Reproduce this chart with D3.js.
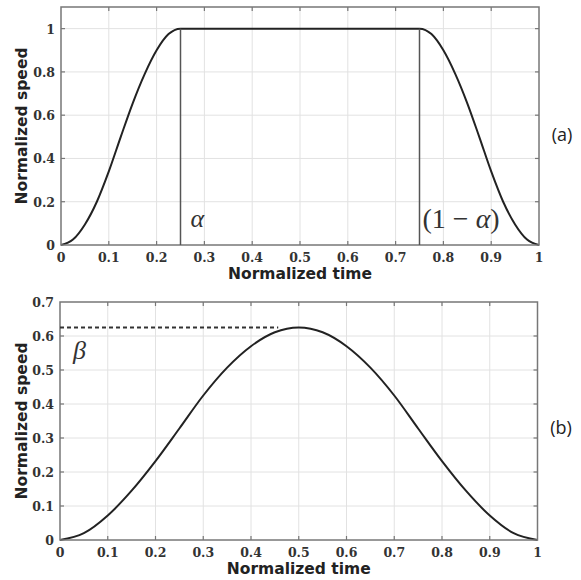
<!DOCTYPE html>
<html>
<head>
<meta charset="utf-8">
<script src="https://cdn.jsdelivr.net/npm/d3@7"></script>
<style>
  html, body { margin: 0; padding: 0; background: #fff; }
  svg { display: block; }
</style>
</head>
<body>
<div id="chart"></div>
<script>
// ---- data ----
const X_TICKS = [0, 0.1, 0.2, 0.3, 0.4, 0.5, 0.6, 0.7, 0.8, 0.9, 1];
const Y_TICKS_A = [0, 0.2, 0.4, 0.6, 0.8, 1];
const Y_TICKS_B = [0, 0.1, 0.2, 0.3, 0.4, 0.5, 0.6, 0.7];

// (a) trapezoid-like profile with smooth ramps
const TIME_A  = [0, 0.025, 0.05, 0.075, 0.1, 0.125, 0.15, 0.175, 0.2, 0.225, 0.25,
                 0.75, 0.775, 0.8, 0.825, 0.85, 0.875, 0.9, 0.925, 0.95, 0.975, 1];
const SPEED_A = [0, 0.025, 0.095, 0.2, 0.34, 0.5, 0.655, 0.79, 0.9, 0.975, 1,
                 1, 0.975, 0.9, 0.79, 0.655, 0.5, 0.34, 0.2, 0.095, 0.025, 0];
const ALPHA = 0.25;

// (b) bell-shaped profile
const TIME_B  = [0, 0.05, 0.1, 0.15, 0.2, 0.25, 0.3, 0.35, 0.4, 0.45, 0.5,
                 0.55, 0.6, 0.65, 0.7, 0.75, 0.8, 0.85, 0.9, 0.95, 1];
const SPEED_B = [0, 0.02, 0.072, 0.145, 0.232, 0.328, 0.425, 0.507, 0.57, 0.611, 0.625,
                 0.611, 0.57, 0.507, 0.425, 0.328, 0.232, 0.145, 0.072, 0.02, 0];
const BETA = 0.625;
const BETA_END = 0.457;

const W = 581, H = 580;
const svg = d3.select("#chart").append("svg")
  .attr("width", W).attr("height", H)
  .attr("viewBox", `0 0 ${W} ${H}`);
svg.append("rect").attr("width", W).attr("height", H).attr("fill", "#fff");

const tickFont = "'DejaVu Serif', serif";
const mathFont = "'Liberation Serif', 'Times New Roman', serif";
const sansFont = "'DejaVu Sans', Verdana, sans-serif";
const fmt = d => d3.format("~g")(d);

function drawPanel(box, yMax, yTicks, times, speeds) {
  const x = d3.scaleLinear().domain([0, 1]).range([box.left, box.right]);
  const y = d3.scaleLinear().domain([0, yMax]).range([box.bottom, box.top]);
  const g = svg.append("g");

  // grid
  g.append("g").selectAll("line").data(X_TICKS.slice(1, -1)).join("line")
    .attr("x1", d => x(d)).attr("x2", d => x(d))
    .attr("y1", box.top).attr("y2", box.bottom)
    .attr("stroke", "#e2e2e2").attr("stroke-width", 1);
  g.append("g").selectAll("line").data(yTicks.filter(d => d > 0 && d < yMax)).join("line")
    .attr("y1", d => y(d)).attr("y2", d => y(d))
    .attr("x1", box.left).attr("x2", box.right)
    .attr("stroke", "#e2e2e2").attr("stroke-width", 1);

  // inward ticks on all four sides
  const tk = 4;
  const ticks = g.append("g").attr("stroke", "#777").attr("stroke-width", 1.2);
  X_TICKS.slice(1, -1).forEach(d => {
    ticks.append("line").attr("x1", x(d)).attr("x2", x(d)).attr("y1", box.bottom).attr("y2", box.bottom - tk);
    ticks.append("line").attr("x1", x(d)).attr("x2", x(d)).attr("y1", box.top).attr("y2", box.top + tk);
  });
  yTicks.filter(d => d > 0 && d < yMax).forEach(d => {
    ticks.append("line").attr("y1", y(d)).attr("y2", y(d)).attr("x1", box.left).attr("x2", box.left + tk);
    ticks.append("line").attr("y1", y(d)).attr("y2", y(d)).attr("x1", box.right).attr("x2", box.right - tk);
  });

  // tick labels
  g.append("g").selectAll("text").data(X_TICKS).join("text")
    .attr("x", d => x(d)).attr("y", box.bottom + 17)
    .attr("text-anchor", "middle")
    .style("font-family", tickFont).style("font-weight", "bold").style("font-size", "12.5px")
    .attr("fill", "#333")
    .text(fmt);
  g.append("g").selectAll("text").data(yTicks).join("text")
    .attr("x", box.left - 6).attr("y", d => y(d) + 5)
    .attr("text-anchor", "end")
    .style("font-family", tickFont).style("font-weight", "bold").style("font-size", "12.5px")
    .attr("fill", "#333")
    .text(fmt);

  // axis titles
  g.append("text")
    .attr("x", (box.left + box.right) / 2).attr("y", box.bottom + 34)
    .attr("text-anchor", "middle")
    .style("font-family", sansFont).style("font-weight", "bold").style("font-size", "15.5px")
    .attr("fill", "#222")
    .text("Normalized time");
  g.append("text")
    .attr("transform", `translate(27, ${(box.top + box.bottom) / 2}) rotate(-90)`)
    .attr("text-anchor", "middle")
    .style("font-family", sansFont).style("font-weight", "bold").style("font-size", "15.5px")
    .attr("fill", "#222")
    .text("Normalized speed");

  // the speed curve
  const pts = times.map((t, i) => [t, speeds[i]]);
  g.append("path")
    .datum(pts)
    .attr("fill", "none").attr("stroke", "#222").attr("stroke-width", 2)
    .attr("d", d3.line().x(d => x(d[0])).y(d => y(d[1])).curve(d3.curveMonotoneX));

  // frame
  g.append("rect")
    .attr("x", box.left).attr("y", box.top)
    .attr("width", box.right - box.left).attr("height", box.bottom - box.top)
    .attr("fill", "none").attr("stroke", "#777").attr("stroke-width", 1.5);

  return { g, x, y };
}

// ---- panel (a) ----
const A = drawPanel({ left: 61, right: 539, top: 7, bottom: 245 }, 1.1, Y_TICKS_A, TIME_A, SPEED_A);
[ALPHA, 1 - ALPHA].forEach(t => {
  A.g.append("line")
    .attr("x1", A.x(t)).attr("x2", A.x(t))
    .attr("y1", A.y(1)).attr("y2", A.y(0))
    .attr("stroke", "#555").attr("stroke-width", 1.5);
});
A.g.append("text")
  .attr("x", A.x(ALPHA) + 10).attr("y", 227)
  .style("font-family", mathFont).style("font-style", "italic").style("font-size", "26px")
  .attr("fill", "#333")
  .text("α");
A.g.append("text")
  .attr("x", A.x(1 - ALPHA) + 3).attr("y", 228)
  .style("font-family", mathFont).style("font-size", "28px")
  .attr("fill", "#333")
  .html("(1 − <tspan font-style='italic'>α</tspan>)");
svg.append("text")
  .attr("x", 562).attr("y", 141)
  .attr("text-anchor", "middle")
  .style("font-family", "'Open Sans', sans-serif").style("font-size", "18px")
  .attr("fill", "#222")
  .text("(a)");

// ---- panel (b) ----
const B = drawPanel({ left: 60, right: 537.5, top: 302, bottom: 540 }, 0.7, Y_TICKS_B, TIME_B, SPEED_B);
B.g.append("line")
  .attr("x1", B.x(0)).attr("x2", B.x(BETA_END))
  .attr("y1", B.y(BETA)).attr("y2", B.y(BETA))
  .attr("stroke", "#333").attr("stroke-width", 1.8)
  .attr("stroke-dasharray", "4,3");
B.g.append("text")
  .attr("x", 73).attr("y", 359)
  .style("font-family", mathFont).style("font-style", "italic").style("font-size", "26px")
  .attr("fill", "#333")
  .text("β");
svg.append("text")
  .attr("x", 561).attr("y", 434)
  .attr("text-anchor", "middle")
  .style("font-family", "'Open Sans', sans-serif").style("font-size", "18px")
  .attr("fill", "#222")
  .text("(b)");
</script>
</body>
</html>
